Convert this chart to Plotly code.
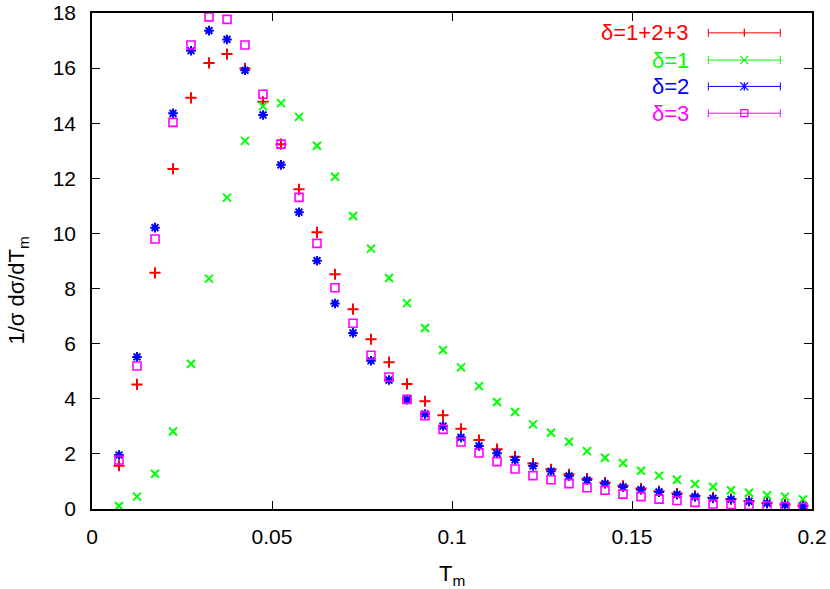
import plotly.graph_objects as go

# bin centres in T_m
t_m = [0.0075, 0.0125, 0.0175, 0.0225, 0.0275, 0.0325, 0.0375, 0.0425, 0.0475, 0.0525,
       0.0575, 0.0625, 0.0675, 0.0725, 0.0775, 0.0825, 0.0875, 0.0925, 0.0975, 0.1025,
       0.1075, 0.1125, 0.1175, 0.1225, 0.1275, 0.1325, 0.1375, 0.1425, 0.1475, 0.1525,
       0.1575, 0.1625, 0.1675, 0.1725, 0.1775, 0.1825, 0.1875, 0.1925, 0.1975]

delta_all = [1.57, 4.52, 8.57, 12.34, 14.92, 16.19, 16.51, 15.99, 14.78, 13.24,
             11.6, 10.04, 8.52, 7.25, 6.16, 5.33, 4.54, 3.91, 3.40, 2.91,
             2.50, 2.17, 1.90, 1.65, 1.44, 1.26, 1.10, 0.96, 0.84, 0.74,
             0.64, 0.56, 0.48, 0.41, 0.36, 0.29, 0.22, 0.16, 0.12]

delta_1 = [0.11, 0.45, 1.28, 2.81, 5.27, 8.36, 11.30, 13.36, 14.62, 14.73,
           14.23, 13.18, 12.06, 10.63, 9.45, 8.38, 7.47, 6.57, 5.77, 5.14,
           4.46, 3.88, 3.52, 3.07, 2.77, 2.44, 2.10, 1.86, 1.67, 1.39,
           1.21, 1.06, 0.91, 0.81, 0.68, 0.59, 0.50, 0.45, 0.35]

delta_2 = [1.96, 5.52, 10.21, 14.36, 16.63, 17.36, 17.04, 15.92, 14.30, 12.49,
           10.77, 9.01, 7.46, 6.39, 5.38, 4.68, 3.97, 3.45, 3.01, 2.60,
           2.29, 2.02, 1.78, 1.56, 1.37, 1.20, 1.05, 0.92, 0.80, 0.70,
           0.62, 0.53, 0.45, 0.39, 0.35, 0.28, 0.21, 0.15, 0.11]

delta_3 = [1.78, 5.19, 9.80, 14.03, 16.84, 17.86, 17.77, 16.84, 15.05, 13.24,
           11.31, 9.64, 8.03, 6.74, 5.58, 4.79, 3.98, 3.39, 2.89, 2.43,
           2.03, 1.72, 1.45, 1.21, 1.06, 0.92, 0.77, 0.68, 0.54, 0.45,
           0.36, 0.31, 0.24, 0.18, 0.16, 0.13, 0.11, 0.08, 0.06]

labels = ["δ=1+2+3", "δ=1", "δ=2", "δ=3"]
colors = ["#ff0000", "#00ff00", "#0000ff", "#ff00ff"]
symbols = ["cross-thin", "x-thin", "asterisk-open", "square-open"]

FONT = "Liberation Sans, Arial, sans-serif"

fig = go.Figure()

series = [delta_all, delta_1, delta_2, delta_3]
for ys, name, col, sym in zip(series, labels, colors, symbols):
    fig.add_trace(go.Scatter(
        x=t_m, y=ys, name=name, mode="markers",
        marker=dict(symbol=sym, size=8, color=col,
                    line=dict(color=col, width=1.6 if sym == "square-open" else 2.0)),
        showlegend=False,
    ))

# -------------------------------------------------
# gnuplot-style key: text on the left, errorbar sample on the right
# -------------------------------------------------
key_y = [0.960, 0.905, 0.852, 0.798]
x_text = 0.832
x0, x1, xm = 0.856, 0.956, 0.906

shapes = []
annotations = []
for yk, name, col, sym in zip(key_y, labels, colors, symbols):
    annotations.append(dict(
        x=x_text, y=yk, xref="paper", yref="paper", text=name, showarrow=False,
        xanchor="right", yanchor="middle", font=dict(size=22, color=col, family=FONT)
    ))
    line = dict(color=col, width=1)
    shapes.append(dict(type="line", xref="paper", yref="paper", x0=x0, x1=x1, y0=yk, y1=yk, line=line))
    for xc in (x0, x1):
        shapes.append(dict(type="line", xref="paper", yref="paper", xsizemode="pixel", ysizemode="pixel",
                           xanchor=xc, yanchor=yk, x0=0, x1=0, y0=-4, y1=4, line=line))
    mk = dict(type="line", xref="paper", yref="paper", xsizemode="pixel", ysizemode="pixel",
              xanchor=xm, yanchor=yk, line=dict(color=col, width=1.3))
    if sym == "cross-thin":
        shapes.append(dict(mk, x0=0, x1=0, y0=-4, y1=4))
    elif sym == "x-thin":
        shapes.append(dict(mk, x0=-4, x1=4, y0=-4, y1=4))
        shapes.append(dict(mk, x0=-4, x1=4, y0=4, y1=-4))
    elif sym == "asterisk-open":
        shapes.append(dict(mk, x0=-4, x1=4, y0=-4, y1=4))
        shapes.append(dict(mk, x0=-4, x1=4, y0=4, y1=-4))
        shapes.append(dict(mk, x0=0, x1=0, y0=-4, y1=4))
    else:
        shapes.append(dict(mk, type="rect", x0=-3.5, x1=3.5, y0=-3.5, y1=3.5))

# axis titles
annotations.append(dict(
    x=0.5, y=-0.133, xref="paper", yref="paper", text="T<sub>m</sub>", showarrow=False,
    xanchor="center", yanchor="middle", font=dict(size=22, color="black", family=FONT)
))
annotations.append(dict(
    x=-0.103, y=0.44, xref="paper", yref="paper", text="1/σ dσ/dT<sub>m</sub>", showarrow=False,
    textangle=-90, xanchor="center", yanchor="middle", font=dict(size=22, color="black", family=FONT)
))

axis_style = dict(
    showline=True, linecolor="black", linewidth=1.5, mirror="ticks",
    ticks="inside", ticklen=8, tickwidth=1, tickcolor="black",
    showgrid=False, zeroline=False, automargin=False,
    tickfont=dict(size=21, color="black", family=FONT),
)

fig.update_layout(
    template="none",
    width=830, height=589,
    margin=dict(l=92, r=18, t=13, b=80),
    plot_bgcolor="white", paper_bgcolor="white",
    xaxis=dict(axis_style, range=[0, 0.2], dtick=0.05, tick0=0, ticklabelstandoff=8),
    yaxis=dict(axis_style, range=[0, 18], dtick=2, tick0=0, ticklabelstandoff=10),
    shapes=shapes,
    annotations=annotations,
    font=dict(family=FONT),
)

# drop the default page margin so the figure sits at the window's corner
fig.write_html("out.html", config={"displayModeBar": False},
               post_script="document.body.style.margin='0px';")
